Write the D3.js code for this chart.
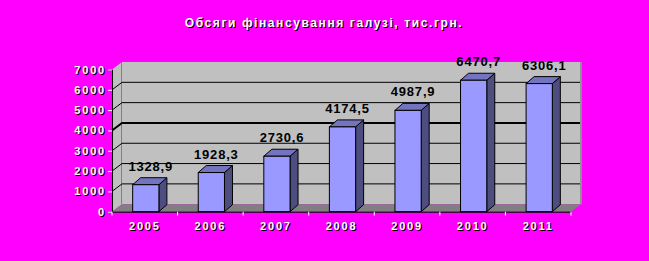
<!DOCTYPE html>
<html>
<head>
<meta charset="utf-8">
<script src="https://cdn.jsdelivr.net/npm/d3@7"></script>
<style>
  body { margin: 0; background: #ff00ff; }
  svg { display: block; }
  text { font-family: "Liberation Sans", Arial, sans-serif; font-weight: bold; }
</style>
</head>
<body>
<svg></svg>
<script>
let title = 'Обсяги фінансування галузі, тис.грн.'
let years = ['2005', '2006', '2007', '2008', '2009', '2010', '2011']
let values = [1328.9, 1928.3, 2730.6, 4174.5, 4987.9, 6470.7, 6306.1]
let yTicks = [0, 1000, 2000, 3000, 4000, 5000, 6000, 7000]

let width = 649
let height = 261
let plotLeft = 112
let plotRight = 571
let plotBottom = 211.7
let plotTop = 69.5
// depth of the walls and the bars
let wallDx = 10
let wallDy = -7.5
let barDx = 8
let barDy = -7

let svg = d3.select('svg').attr('width', width).attr('height', height)

let xScale = d3.scaleBand().domain(years).range([plotLeft, plotRight])
let yScale = d3.scaleLinear().domain([0, 7000]).range([plotBottom, plotTop])

const fmt = (v) => v.toFixed(1).replace('.', ',')

// walls and floor
let walls = svg.append('g')
walls.append('polygon')
    .attr('points', [[plotLeft, plotTop], [plotLeft + wallDx, plotTop + wallDy], [plotLeft + wallDx, plotBottom + wallDy], [plotLeft, plotBottom]].join(' '))
    .attr('fill', '#c0c0c0')
walls.append('rect')
    .attr('x', plotLeft + wallDx).attr('y', plotTop + wallDy)
    .attr('width', plotRight - plotLeft).attr('height', plotBottom - plotTop)
    .attr('fill', '#c0c0c0')
walls.append('rect')
    .attr('x', plotRight + wallDx - 1).attr('y', plotTop + wallDy)
    .attr('width', 2).attr('height', plotBottom - plotTop)
    .attr('fill', '#909090')
walls.append('line')
    .attr('x1', plotLeft + wallDx - 0.5).attr('x2', plotLeft + wallDx - 0.5)
    .attr('y1', plotTop + wallDy).attr('y2', plotBottom + wallDy)
    .attr('stroke', '#808080')
walls.append('polygon')
    .attr('points', [[plotLeft, plotBottom], [plotRight, plotBottom], [plotRight + wallDx, plotBottom + wallDy], [plotLeft + wallDx, plotBottom + wallDy]].join(' '))
    .attr('fill', '#808080')

// gridlines: slanted on the side wall, flat on the back wall
let grid = svg.append('g')
yTicks.filter(t => t > 0 && t < 7000).forEach(t => {
    let y = yScale(t)
    grid.append('polyline')
        .attr('points', [[plotLeft, y], [plotLeft + wallDx, y + wallDy], [plotRight + wallDx - 1, y + wallDy]].join(' '))
        .attr('fill', 'none')
        .attr('stroke', '#000')
        .attr('stroke-width', t === 4000 ? 2 : 1)
})

// bars
let bars = svg.append('g')
years.forEach((yr, i) => {
    let bw = xScale.bandwidth() * 0.4
    let x0 = xScale(yr) + (xScale.bandwidth() - bw) / 2 + 1
    let x1 = x0 + bw
    let yt = yScale(values[i])
    let yb = yScale(0)
    bars.append('polygon')
        .attr('points', [[x1, yb], [x1 + barDx, yb + barDy], [x1 + barDx, yt + barDy], [x1, yt]].join(' '))
        .attr('fill', '#4d4d80').attr('stroke', '#000')
    bars.append('polygon')
        .attr('points', [[x0, yt], [x0 + barDx, yt + barDy], [x1 + barDx, yt + barDy], [x1, yt]].join(' '))
        .attr('fill', '#7373bf').attr('stroke', '#000')
    bars.append('rect')
        .attr('x', x0).attr('y', yt).attr('width', bw).attr('height', yb - yt)
        .attr('fill', '#9999ff').attr('stroke', '#000')
    bars.append('text')
        .attr('x', (x0 + x1) / 2 + 5)
        .attr('y', yt - 14)
        .attr('text-anchor', 'middle')
        .attr('font-size', 13)
        .attr('letter-spacing', 0.8)
        .attr('fill', '#000')
        .text(fmt(values[i]))
})

// axes
let yAxis = d3.axisLeft(yScale).tickValues(yTicks).tickFormat(d3.format('d')).tickSize(4).tickPadding(2)
let xAxis = d3.axisBottom(xScale).tickSize(0).tickPadding(11)

let gy = svg.append('g').attr('transform', 'translate(' + plotLeft + ',0)').call(yAxis)
let gx = svg.append('g').attr('transform', 'translate(0,' + plotBottom + ')').call(xAxis)

// boundary ticks on the x axis
let bounds = years.map(y => xScale(y)).concat([plotRight])
gx.selectAll('.bound').data(bounds).enter().append('line')
    .attr('x1', d => d).attr('x2', d => d).attr('y1', 0).attr('y2', 4)
    .attr('stroke', '#fff')

gx.select('.domain').attr('stroke', '#000')
gy.select('.domain').attr('stroke', '#000')
gy.selectAll('.tick line').attr('stroke', '#fff')

;[gx, gy].forEach(g => {
    g.selectAll('.tick text').each(function() {
        let t = d3.select(this)
        t.attr('fill', '#fff').attr('font-size', 11).attr('letter-spacing', 1.8)
        let shadow = this.cloneNode(true)
        this.parentNode.insertBefore(shadow, this)
        d3.select(shadow).attr('fill', '#000').attr('transform', 'translate(1,1)')
    })
})

// title with shadow
svg.append('text')
    .attr('x', 325).attr('y', 28)
    .attr('text-anchor', 'middle').attr('font-size', 12).attr('letter-spacing', 1.6)
    .attr('fill', '#000').text(title)
svg.append('text')
    .attr('x', 324).attr('y', 27)
    .attr('text-anchor', 'middle').attr('font-size', 12).attr('letter-spacing', 1.6)
    .attr('fill', '#fff').text(title)
</script>
</body>
</html>
